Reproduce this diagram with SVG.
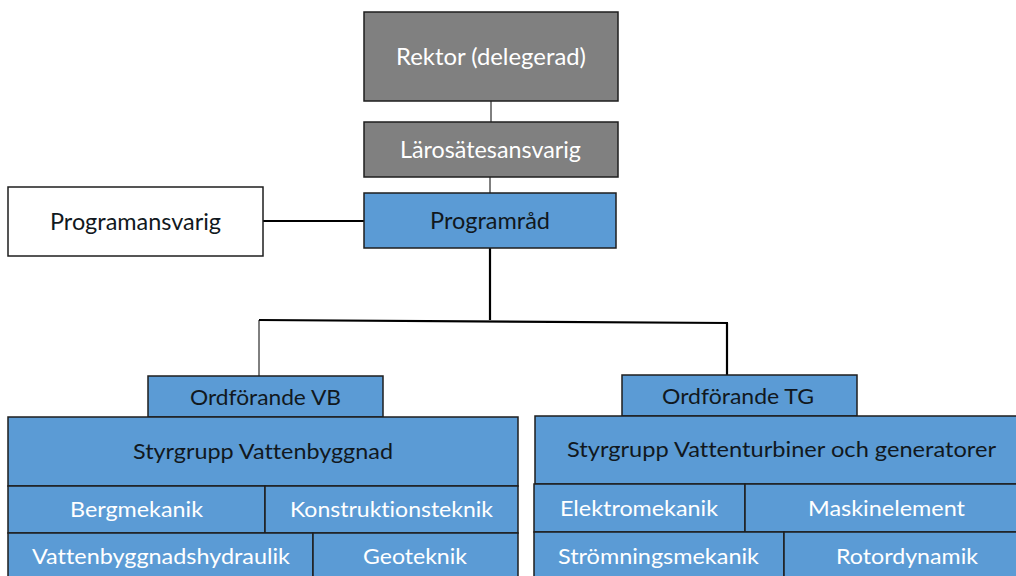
<svg xmlns="http://www.w3.org/2000/svg" width="1016" height="576" viewBox="0 0 1016 576">
<style>
.box{stroke:#1e1e1e;stroke-width:1.5}
.gray{fill:#808080}
.blue{fill:#5b9bd5}
.white{fill:#ffffff}
text{font-family:Lato,"Liberation Sans",sans-serif;text-anchor:middle;font-variant-ligatures:none}
.tw{fill:#ffffff}
.td{fill:#111820}
.big{font-size:23px}
.med{font-size:21px}
.con{stroke:#000;fill:none}
</style>
<rect width="1016" height="576" fill="#ffffff"/>
<g id="connectors">
<line class="con" x1="491" y1="101" x2="491" y2="122" stroke-width="1"/>
<line class="con" x1="490" y1="177" x2="490" y2="193" stroke-width="1"/>
<line class="con" x1="263" y1="221" x2="364" y2="221" stroke-width="2.2"/>
<line class="con" x1="490" y1="248" x2="490" y2="320" stroke-width="2.2"/>
<line class="con" x1="259" y1="320" x2="728" y2="323" stroke-width="2.2"/>
<line class="con" x1="259" y1="320" x2="259" y2="376" stroke-width="1"/>
<line class="con" x1="727" y1="323" x2="727" y2="375" stroke-width="2.2"/>
</g>
<g id="rektor">
<rect class="box gray" x="364" y="12" width="254" height="89"/>
<text class="tw big" x="491" y="65" textLength="190" lengthAdjust="spacingAndGlyphs">Rektor (delegerad)</text>
</g>
<g id="larosatesansvarig">
<rect class="box gray" x="364" y="122" width="254" height="55"/>
<text class="tw big" x="490.5" y="158" textLength="181" lengthAdjust="spacingAndGlyphs">Lärosätesansvarig</text>
</g>
<g id="programrad">
<rect class="box blue" x="364" y="193" width="252" height="55"/>
<text class="td big" x="490" y="229" textLength="120" lengthAdjust="spacingAndGlyphs">Programråd</text>
</g>
<g id="programansvarig">
<rect class="box white" x="8" y="187" width="255" height="69"/>
<text class="td big" x="135.5" y="230" textLength="171" lengthAdjust="spacingAndGlyphs">Programansvarig</text>
</g>
<g id="ordforande-vb">
<rect class="box blue" x="148" y="376" width="235" height="41"/>
<text class="td med" x="265.5" y="405" textLength="151" lengthAdjust="spacingAndGlyphs">Ordförande VB</text>
</g>
<g id="styrgrupp-vb">
<rect class="box blue" x="8" y="417" width="510" height="69"/>
<text class="td med" x="263" y="459" textLength="260" lengthAdjust="spacingAndGlyphs">Styrgrupp Vattenbyggnad</text>
</g>
<g id="bergmekanik">
<rect class="box blue" x="8" y="486" width="257" height="47"/>
<text class="tw med" x="136.5" y="517" textLength="133" lengthAdjust="spacingAndGlyphs">Bergmekanik</text>
</g>
<g id="konstruktionsteknik">
<rect class="box blue" x="265" y="486" width="253" height="47"/>
<text class="tw med" x="391.5" y="517" textLength="203" lengthAdjust="spacingAndGlyphs">Konstruktionsteknik</text>
</g>
<g id="vattenbyggnadshydraulik">
<rect class="box blue" x="8" y="533" width="305" height="50"/>
<text class="tw med" x="161" y="564" textLength="258" lengthAdjust="spacingAndGlyphs">Vattenbyggnadshydraulik</text>
</g>
<g id="geoteknik">
<rect class="box blue" x="313" y="533" width="205" height="50"/>
<text class="tw med" x="415" y="564" textLength="104" lengthAdjust="spacingAndGlyphs">Geoteknik</text>
</g>
<g id="ordforande-tg">
<rect class="box blue" x="622" y="375" width="235" height="41"/>
<text class="td med" x="738" y="404" textLength="152" lengthAdjust="spacingAndGlyphs">Ordförande TG</text>
</g>
<g id="styrgrupp-tg">
<rect class="box blue" x="535" y="416" width="490" height="68"/>
<text class="td med" x="781.5" y="457" textLength="429" lengthAdjust="spacingAndGlyphs">Styrgrupp Vattenturbiner och generatorer</text>
</g>
<g id="elektromekanik">
<rect class="box blue" x="534" y="484" width="211" height="48"/>
<text class="tw med" x="639" y="516" textLength="158" lengthAdjust="spacingAndGlyphs">Elektromekanik</text>
</g>
<g id="maskinelement">
<rect class="box blue" x="745" y="484" width="280" height="48"/>
<text class="tw med" x="886.5" y="516" textLength="157" lengthAdjust="spacingAndGlyphs">Maskinelement</text>
</g>
<g id="stromningsmekanik">
<rect class="box blue" x="534" y="532" width="250" height="50"/>
<text class="tw med" x="658.5" y="564" textLength="201" lengthAdjust="spacingAndGlyphs">Strömningsmekanik</text>
</g>
<g id="rotordynamik">
<rect class="box blue" x="784" y="532" width="241" height="50"/>
<text class="tw med" x="907" y="564" textLength="142" lengthAdjust="spacingAndGlyphs">Rotordynamik</text>
</g>
</svg>
